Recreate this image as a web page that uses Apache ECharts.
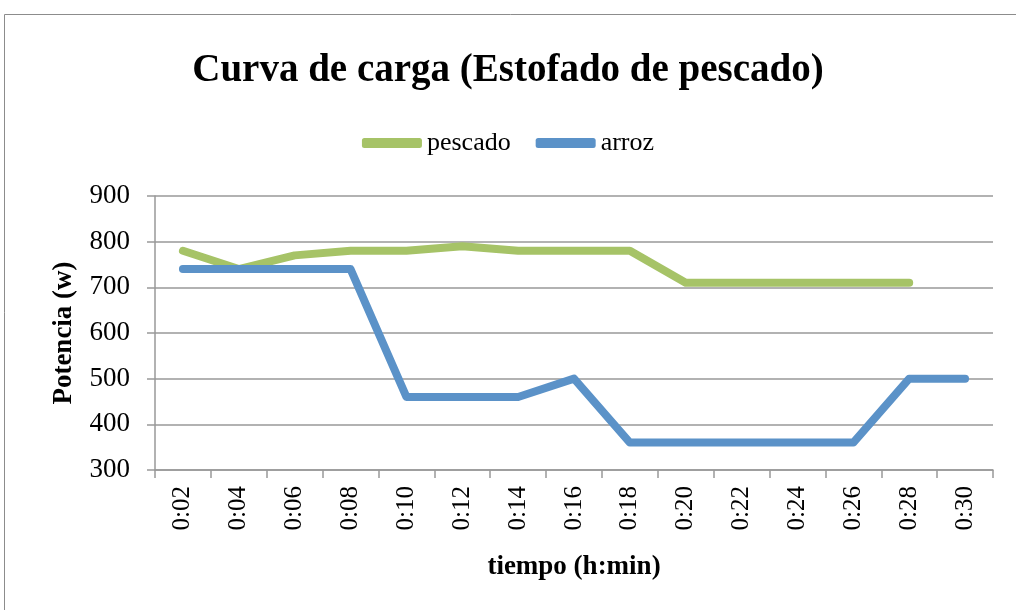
<!DOCTYPE html>
<html>
<head>
<meta charset="utf-8">
<script src="https://cdn.jsdelivr.net/npm/echarts@6/dist/echarts.min.js"></script>
<style>
  html, body { margin: 0; padding: 0; background: #fff; }
  #chart { width: 1016px; height: 610px; }
</style>
</head>
<body>
<div id="chart"></div>
<script>
var categories = ["0:02", "0:04", "0:06", "0:08", "0:10", "0:12", "0:14", "0:16",
  "0:18", "0:20", "0:22", "0:24", "0:26", "0:28", "0:30"];
var pescado = [780, 740, 770, 780, 780, 790, 780, 780, 780, 710, 710, 710, 710, 710];
var arroz = [740, 740, 740, 740, 460, 460, 460, 500, 360, 360, 360, 360, 360, 500, 500];

var font = "Liberation Serif";
var chart = echarts.init(document.getElementById("chart"));
chart.setOption({
  animation: false,
  textStyle: { fontFamily: font },
  title: {
    text: "Curva de carga (Estofado de pescado)",
    left: "center",
    top: 46,
    textStyle: { fontFamily: font, fontSize: 39, fontWeight: "bold", color: "#000" }
  },
  legend: {
    top: 125,
    left: "center",
    itemWidth: 60,
    itemHeight: 10,
    itemGap: 25,
    icon: "roundRect",
    textStyle: { fontFamily: font, fontSize: 26, color: "#000" },
    data: ["pescado", "arroz"]
  },
  graphic: [{
    type: "rect",
    shape: { x: 4.5, y: 14.5, width: 1020, height: 610 },
    style: { fill: "none", stroke: "#8c8c8c", lineWidth: 1 }
  }],
  grid: { left: 155, right: 23, top: 196, bottom: 140 },
  xAxis: {
    type: "category",
    data: categories,
    boundaryGap: true,
    name: "tiempo (h:min)",
    nameLocation: "middle",
    nameGap: 84,
    nameTextStyle: { fontFamily: font, fontSize: 27, fontWeight: "bold", color: "#000" },
    axisLine: { lineStyle: { color: "#999", width: 1.5 } },
    axisTick: { show: true, length: 8, lineStyle: { color: "#999", width: 1.5 } },
    axisLabel: { rotate: 90, fontSize: 25, color: "#000", margin: 16 }
  },
  yAxis: {
    type: "value",
    min: 300,
    max: 900,
    interval: 100,
    name: "Potencia (w)",
    nameLocation: "middle",
    nameGap: 77,
    nameTextStyle: { fontFamily: font, fontSize: 27, fontWeight: "bold", color: "#000" },
    axisLine: { show: true, lineStyle: { color: "#999", width: 1.5 } },
    axisTick: { show: true, length: 8, lineStyle: { color: "#999", width: 1.5 } },
    axisLabel: { fontSize: 27, color: "#000", margin: 25 },
    splitLine: { lineStyle: { color: "#999", width: 1.5 } }
  },
  series: [
    {
      name: "pescado",
      type: "line",
      data: pescado,
      symbol: "none",
      color: "#a6c367",
      lineStyle: { width: 8, color: "#a6c367", cap: "round", join: "round" }
    },
    {
      name: "arroz",
      type: "line",
      data: arroz,
      symbol: "none",
      color: "#5b92c8",
      lineStyle: { width: 8, color: "#5b92c8", cap: "round", join: "round" }
    }
  ]
});
</script>
</body>
</html>
